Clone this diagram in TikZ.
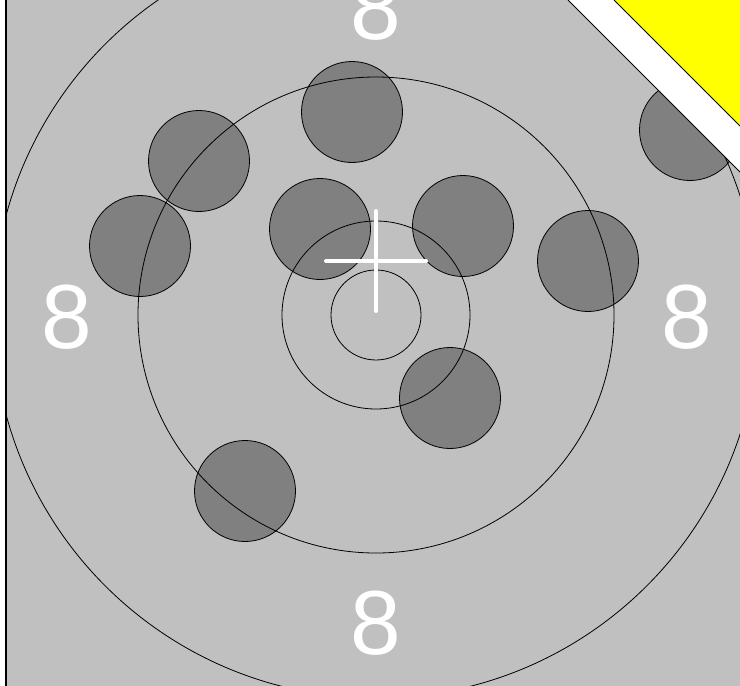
\documentclass[tikz,border=0pt]{standalone}
\usepackage{fontspec}
\setmainfont{Liberation Sans}
\usetikzlibrary{positioning}
\definecolor{targetgrey}{RGB}{192,192,192}
\definecolor{shotgrey}{RGB}{128,128,128}
\definecolor{cardyellow}{RGB}{255,255,0}
\tikzset{
  ring/.style={draw=black,line width=0.8pt},
  edgeline/.style={draw=black,line width=1.2pt},
  shot/.style={circle,draw=black,fill=shotgrey,line width=0.8pt,
    minimum size=101pt,inner sep=0pt},
  aimcross/.style={draw=white,line width=4pt,line cap=round},
  scorelabel/.style={text=white,inner sep=0pt,
    font=\fontsize{91}{91}\selectfont}
}

\begin{document}
\begin{tikzpicture}[x=1pt,y=-1pt]
  \useasboundingbox[fill=white] (0,0) rectangle (740,686);
  % corner of the card
  \fill[cardyellow] (614,0) -- (740,0) -- (740,126) -- cycle;
  \draw[edgeline,line width=0.8pt] (614,0) -- (740,126);
  \begin{scope}
    \clip (6,0) -- (568,0) -- (740,172) -- (740,686) -- (6,686) -- cycle;
    \fill[targetgrey] (0,0) rectangle (740,686);
    \coordinate (centre) at (376,315);
    % shots
    \foreach \n/\x/\y in {1/352/112,2/199/161,3/140/246,4/320/229,
      5/463/226,6/588/261,7/450/398,8/245/491,9/690/130}
      \node[shot] (shot\n) at (\x,\y) {};
    % scoring rings
    \draw[ring] (centre) circle[radius=45];
    \draw[ring] (centre) circle[radius=94];
    \draw[ring] (centre) circle[radius=238];
    \draw[ring] (centre) circle[radius=383];
    % score numbers
    \node[scorelabel] (topscore) at (376,8) {8};
    \node[scorelabel] (leftscore) at (67,317) {8};
    \node[scorelabel] (rightscore) at (687,317) {8};
    \node[scorelabel] (bottomscore) at (376,623) {8};
    % mean point of impact
    \coordinate (mpi) at (376,261);
    \draw[aimcross] ([yshift=50pt]mpi) -- ([yshift=-50pt]mpi);
    \draw[aimcross] ([xshift=-50pt]mpi) -- ([xshift=50pt]mpi);
  \end{scope}
  \draw[edgeline] (6,0) -- (6,686);
  \draw[edgeline,line width=0.8pt] (568,0) -- (740,172);
\end{tikzpicture}
\end{document}
